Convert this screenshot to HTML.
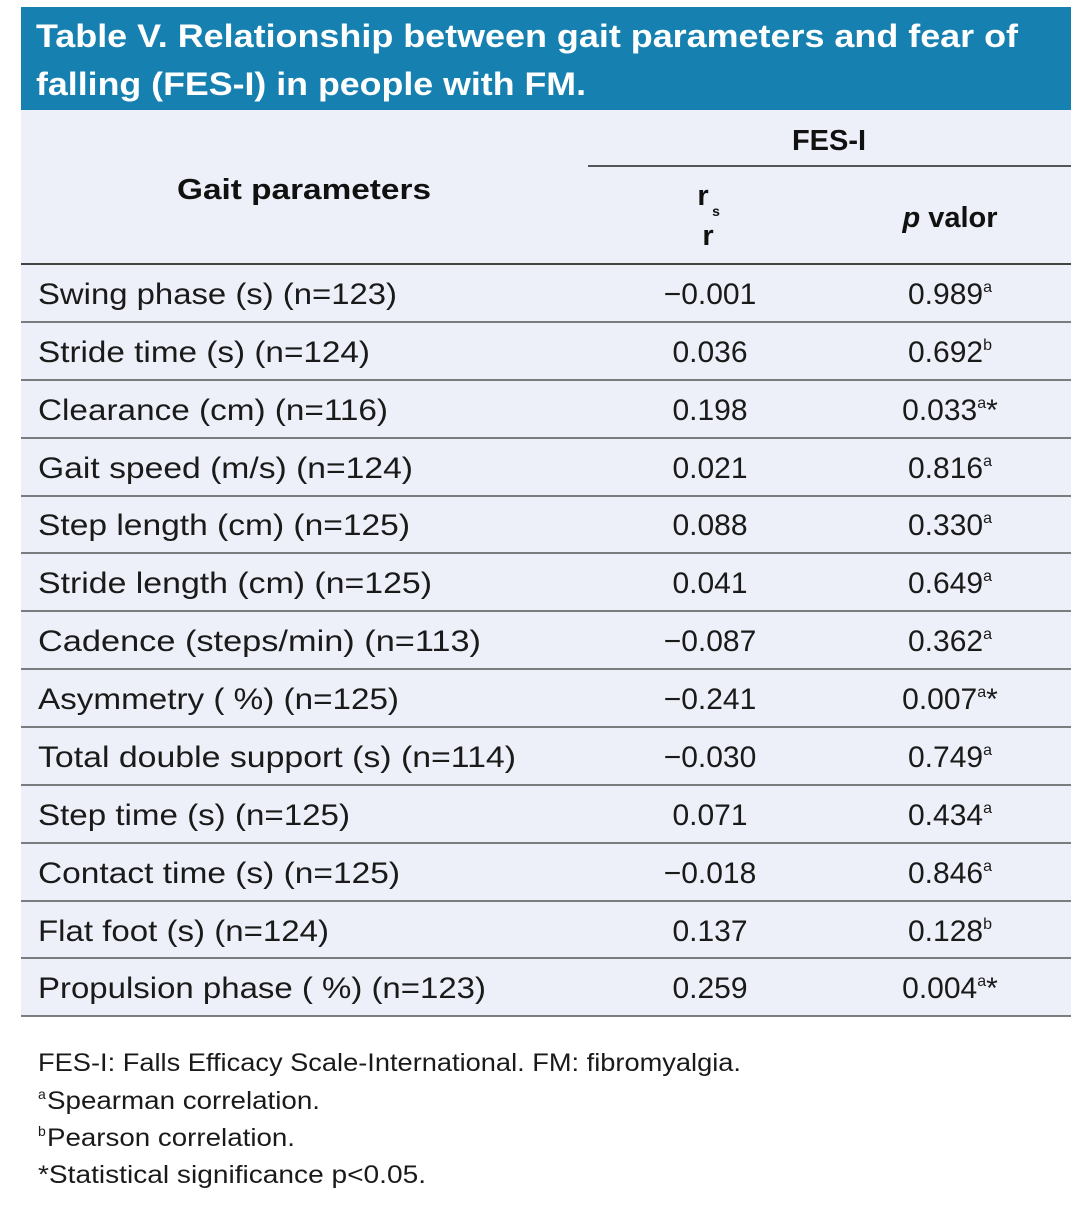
<!DOCTYPE html>
<html><head><meta charset="utf-8"><style>
body{margin:0;background:#fff;}
svg{display:block;font-family:"Liberation Sans",sans-serif;}
</style></head><body>
<svg width="1088" height="1211" viewBox="0 0 1088 1211" xmlns="http://www.w3.org/2000/svg">
<rect x="0" y="0" width="1088" height="1211" fill="#fff"/>
<rect x="21" y="7" width="1050" height="103" fill="#1681b0"/>
<rect x="21" y="110" width="1050" height="906" fill="#edf0f8"/>
<g fill="#fff" font-weight="bold" font-size="32">
<text x="36" y="47" textLength="982" lengthAdjust="spacingAndGlyphs">Table V. Relationship between gait parameters and fear of</text>
<text x="36" y="95" textLength="550" lengthAdjust="spacingAndGlyphs">falling (FES-I) in people with FM.</text>
</g>
<g fill="#111" font-weight="bold" font-size="29">
<text x="829" y="150" text-anchor="middle">FES-I</text>
<text x="304" y="199" text-anchor="middle" textLength="254" lengthAdjust="spacingAndGlyphs">Gait parameters</text>
<text x="703" y="205" text-anchor="middle">r</text>
<text x="716" y="216" font-size="14" text-anchor="middle">s</text>
<text x="708" y="245" text-anchor="middle">r</text>
<text x="950" y="227" text-anchor="middle"><tspan font-style="italic">p</tspan> valor</text>
</g>
<line x1="588" y1="166" x2="1071" y2="166" stroke="#222" stroke-width="1.5"/>
<line x1="21" y1="264" x2="1071" y2="264" stroke="#444" stroke-width="2"/>
<g stroke="#555" stroke-width="1.5">
<line x1="21" y1="322" x2="1071" y2="322"/><line x1="21" y1="380" x2="1071" y2="380"/>
<line x1="21" y1="438" x2="1071" y2="438"/><line x1="21" y1="496" x2="1071" y2="496"/>
<line x1="21" y1="553" x2="1071" y2="553"/><line x1="21" y1="611" x2="1071" y2="611"/>
<line x1="21" y1="669" x2="1071" y2="669"/><line x1="21" y1="727" x2="1071" y2="727"/>
<line x1="21" y1="785" x2="1071" y2="785"/><line x1="21" y1="843" x2="1071" y2="843"/>
<line x1="21" y1="901" x2="1071" y2="901"/><line x1="21" y1="958" x2="1071" y2="958"/>
<line x1="21" y1="1016" x2="1071" y2="1016"/>
</g>
<g fill="#1a1a1a" font-size="30">
<text x="38" y="304" textLength="359" lengthAdjust="spacingAndGlyphs">Swing phase (s) (n=123)</text><text x="710" y="304" text-anchor="middle">−0.001</text><text x="950" y="304" text-anchor="middle">0.989<tspan font-size="16" dy="-12">a</tspan></text>
<text x="38" y="362" textLength="332" lengthAdjust="spacingAndGlyphs">Stride time (s) (n=124)</text><text x="710" y="362" text-anchor="middle">0.036</text><text x="950" y="362" text-anchor="middle">0.692<tspan font-size="16" dy="-12">b</tspan></text>
<text x="38" y="420" textLength="350" lengthAdjust="spacingAndGlyphs">Clearance (cm) (n=116)</text><text x="710" y="420" text-anchor="middle">0.198</text><text x="950" y="420" text-anchor="middle">0.033<tspan font-size="16" dy="-12">a</tspan><tspan dy="12">*</tspan></text>
<text x="38" y="478" textLength="375" lengthAdjust="spacingAndGlyphs">Gait speed (m/s) (n=124)</text><text x="710" y="478" text-anchor="middle">0.021</text><text x="950" y="478" text-anchor="middle">0.816<tspan font-size="16" dy="-12">a</tspan></text>
<text x="38" y="535" textLength="372" lengthAdjust="spacingAndGlyphs">Step length (cm) (n=125)</text><text x="710" y="535" text-anchor="middle">0.088</text><text x="950" y="535" text-anchor="middle">0.330<tspan font-size="16" dy="-12">a</tspan></text>
<text x="38" y="593" textLength="394" lengthAdjust="spacingAndGlyphs">Stride length (cm) (n=125)</text><text x="710" y="593" text-anchor="middle">0.041</text><text x="950" y="593" text-anchor="middle">0.649<tspan font-size="16" dy="-12">a</tspan></text>
<text x="38" y="651" textLength="443" lengthAdjust="spacingAndGlyphs">Cadence (steps/min) (n=113)</text><text x="710" y="651" text-anchor="middle">−0.087</text><text x="950" y="651" text-anchor="middle">0.362<tspan font-size="16" dy="-12">a</tspan></text>
<text x="38" y="709" textLength="361" lengthAdjust="spacingAndGlyphs">Asymmetry ( %) (n=125)</text><text x="710" y="709" text-anchor="middle">−0.241</text><text x="950" y="709" text-anchor="middle">0.007<tspan font-size="16" dy="-12">a</tspan><tspan dy="12">*</tspan></text>
<text x="38" y="767" textLength="478" lengthAdjust="spacingAndGlyphs">Total double support (s) (n=114)</text><text x="710" y="767" text-anchor="middle">−0.030</text><text x="950" y="767" text-anchor="middle">0.749<tspan font-size="16" dy="-12">a</tspan></text>
<text x="38" y="825" textLength="312" lengthAdjust="spacingAndGlyphs">Step time (s) (n=125)</text><text x="710" y="825" text-anchor="middle">0.071</text><text x="950" y="825" text-anchor="middle">0.434<tspan font-size="16" dy="-12">a</tspan></text>
<text x="38" y="883" textLength="362" lengthAdjust="spacingAndGlyphs">Contact time (s) (n=125)</text><text x="710" y="883" text-anchor="middle">−0.018</text><text x="950" y="883" text-anchor="middle">0.846<tspan font-size="16" dy="-12">a</tspan></text>
<text x="38" y="941" textLength="291" lengthAdjust="spacingAndGlyphs">Flat foot (s) (n=124)</text><text x="710" y="941" text-anchor="middle">0.137</text><text x="950" y="941" text-anchor="middle">0.128<tspan font-size="16" dy="-12">b</tspan></text>
<text x="38" y="998" textLength="448" lengthAdjust="spacingAndGlyphs">Propulsion phase ( %) (n=123)</text><text x="710" y="998" text-anchor="middle">0.259</text><text x="950" y="998" text-anchor="middle">0.004<tspan font-size="16" dy="-12">a</tspan><tspan dy="12">*</tspan></text>
</g>
<g fill="#1a1a1a" font-size="25">
<text x="38" y="1071" textLength="703" lengthAdjust="spacingAndGlyphs">FES-I: Falls Efficacy Scale-International. FM: fibromyalgia.</text>
<text x="38" y="1099" font-size="14">a</text><text x="47" y="1109" textLength="273" lengthAdjust="spacingAndGlyphs">Spearman correlation.</text>
<text x="38" y="1136" font-size="14">b</text><text x="47" y="1146" textLength="248" lengthAdjust="spacingAndGlyphs">Pearson correlation.</text>
<text x="38" y="1183" textLength="388" lengthAdjust="spacingAndGlyphs">*Statistical significance p&lt;0.05.</text>
</g>
</svg>
</body></html>
